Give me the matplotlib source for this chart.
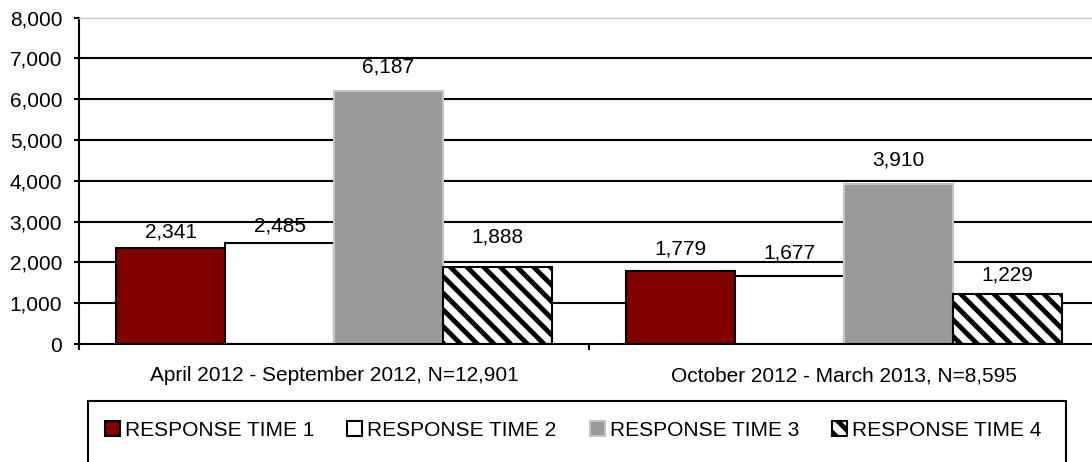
import matplotlib
matplotlib.use("Agg")
import matplotlib.pyplot as plt
from matplotlib.patches import Patch, Rectangle
from matplotlib.ticker import FuncFormatter, FixedLocator
import numpy as np

# ---- data ----
categories = ["April 2012 - September 2012, N=12,901",
              "October 2012 - March 2013, N=8,595"]
series_names = ["RESPONSE TIME 1", "RESPONSE TIME 2", "RESPONSE TIME 3", "RESPONSE TIME 4"]
rt1 = [2341, 1779]
rt2 = [2485, 1677]
rt3 = [6187, 3910]
rt4 = [1888, 1229]
y_ticks = [0, 1000, 2000, 3000, 4000, 5000, 6000, 7000, 8000]

# ---- style ----
plt.rcParams['font.family'] = ['Liberation Sans', 'DejaVu Sans']
plt.rcParams['hatch.linewidth'] = 3.5
plt.rcParams['hatch.color'] = 'black'
FS = 15

styles = [
    dict(facecolor='#800000', edgecolor='black', hatch=None),
    dict(facecolor='white', edgecolor='black', hatch=None),
    dict(facecolor='#999999', edgecolor='#c4c4c4', hatch=None),
    dict(facecolor='white', edgecolor='black', hatch='\\\\'),
]
# label offsets above bar top (points), per series per category
label_offsets = [[11.5, 16.2], [11.9, 16.6], [17.6, 17.3], [21.6, 13.7]]

W, H = 1092, 462
fig = plt.figure(figsize=(W / 100, H / 100), dpi=100)
ax = fig.add_axes([79 / W, (H - 344) / H, (1099 - 79) / W, (344 - 17.5) / H])

x = np.arange(len(categories))
bw = 0.2137
all_series = [rt1, rt2, rt3, rt4]
for i, (vals, st) in enumerate(zip(all_series, styles)):
    xs = x + (i - 1.5) * bw
    bars = ax.bar(xs, vals, width=bw, facecolor=st['facecolor'], edgecolor=st['edgecolor'],
                  hatch=st['hatch'], linewidth=1.5, zorder=3)
    for j, (b, v) in enumerate(zip(bars, vals)):
        ax.annotate(f"{v:,}", (b.get_x() + b.get_width() / 2, v),
                    xytext=(0, label_offsets[i][j]), textcoords='offset points',
                    ha='center', va='center', fontsize=FS, color='black', zorder=5)

ax.set_xlim(-0.5, 1.5)
ax.set_ylim(0, 8000)
ax.set_yticks(y_ticks)
ax.yaxis.set_major_formatter(FuncFormatter(lambda v, p: f"{int(v):,}"))
ax.tick_params(axis='y', direction='out', length=3.6, width=1.5, pad=8.5, labelsize=FS, colors='black')

ax.set_xticks(x)
ax.set_xticklabels(categories, fontsize=FS)
ax.tick_params(axis='x', which='major', length=0, pad=16)
ax.xaxis.set_minor_locator(FixedLocator([-0.5, 0.5, 1.5]))
ax.tick_params(axis='x', which='minor', direction='out', length=4.5, width=1.5)

for yv in y_ticks[1:-1]:
    ax.axhline(yv, color='black', linewidth=1.5, zorder=1)

ax.spines['left'].set_linewidth(1.5)
ax.spines['bottom'].set_linewidth(1.5)
ax.spines['bottom'].set_zorder(4)
ax.spines['right'].set_visible(False)
ax.spines['top'].set_color('#c8c8c8')
ax.spines['top'].set_linewidth(1.0)

# legend
handles = [Patch(facecolor=st['facecolor'], edgecolor=st['edgecolor'], hatch=st['hatch'],
                 linewidth=1.5) for st in styles]
fsp = FS * 100 / 72
leg = fig.legend(handles, series_names, loc='center left',
                 bbox_to_anchor=(105 / W, (H - 430) / H), ncol=4, frameon=False,
                 fontsize=FS, borderpad=0, borderaxespad=0,
                 handlelength=15 / fsp, handleheight=15 / fsp,
                 handletextpad=5 / fsp, columnspacing=33 / fsp)
fig.patches.append(Rectangle((88 / W, -0.1), (1066 - 88) / W, 0.1 + (H - 401) / H,
                             transform=fig.transFigure, fill=False,
                             edgecolor='black', linewidth=1.5))

fig.savefig("out.png", dpi=100)
